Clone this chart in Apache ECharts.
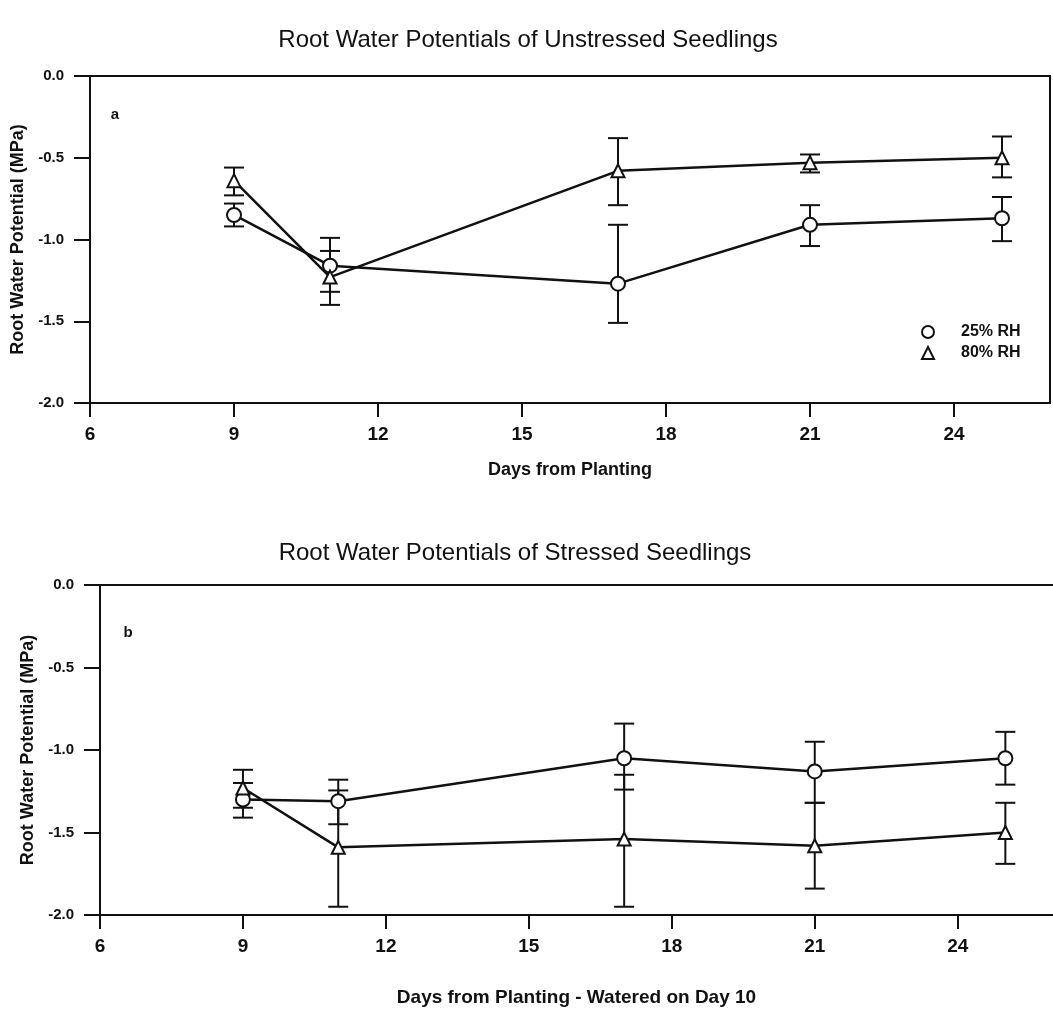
<!DOCTYPE html>
<html><head><meta charset="utf-8">
<script src="https://cdn.jsdelivr.net/npm/echarts@6/dist/echarts.min.js"></script>
<style>html,body{margin:0;padding:0;background:#fff}#c{width:1053px;height:1020px}</style>
</head><body><div id="c"></div>
<script>
// ---- data ----
const days = [9, 11, 17, 21, 25];
const seriesNames = ['25% RH', '80% RH'];
const titleA = 'Root Water Potentials of Unstressed Seedlings';
const titleB = 'Root Water Potentials of Stressed Seedlings';
const xNameA = 'Days from Planting';
const xNameB = 'Days from Planting - Watered on Day 10';
const yName = 'Root Water Potential (MPa)';
const xTickLabels = [6, 9, 12, 15, 18, 21, 24];
const yTickLabels = ['0.0', '-0.5', '-1.0', '-1.5', '-2.0'];

// panel a (unstressed)
const a25 = [-0.85, -1.16, -1.27, -0.91, -0.87];
const a25Hi = [-0.78, -0.99, -0.91, -0.79, -0.74];
const a25Lo = [-0.92, -1.32, -1.51, -1.04, -1.01];
const a80 = [-0.64, -1.23, -0.58, -0.53, -0.50];
const a80Hi = [-0.56, -1.07, -0.38, -0.48, -0.37];
const a80Lo = [-0.73, -1.40, -0.79, -0.59, -0.62];

// panel b (stressed)
const b25 = [-1.30, -1.31, -1.05, -1.13, -1.05];
const b25Hi = [-1.20, -1.18, -0.84, -0.95, -0.89];
const b25Lo = [-1.41, -1.45, -1.24, -1.32, -1.21];
const b80 = [-1.23, -1.59, -1.54, -1.58, -1.50];
const b80Hi = [-1.12, -1.245, -1.15, -1.32, -1.32];
const b80Lo = [-1.35, -1.95, -1.95, -1.84, -1.69];

// ---- chart ----
const FONT = 'Liberation Sans, Arial, sans-serif';
const INK = '#111';
const chart = echarts.init(document.getElementById('c'), null, {renderer: 'canvas'});

function xAxis(gi, name, gap, nameSize) {
  return {
    type: 'value', gridIndex: gi, min: 6, max: 26, interval: 3,
    name: name, nameLocation: 'middle', nameGap: gap,
    nameTextStyle: {fontFamily: FONT, fontSize: nameSize, fontWeight: 'bold', color: INK},
    axisLine: {onZero: false, lineStyle: {color: INK, width: 2}},
    axisTick: {inside: false, length: 14, customValues: xTickLabels, lineStyle: {color: INK, width: 2}},
    axisLabel: {margin: 22, fontFamily: FONT, fontSize: 19, fontWeight: 'bold', color: INK,
      customValues: xTickLabels,
      formatter: v => xTickLabels.indexOf(v) >= 0 ? String(v) : ''},
    splitLine: {show: false}
  };
}
function topLine(gi) {
  return {
    type: 'value', gridIndex: gi, min: 6, max: 26, position: 'top',
    axisLine: {onZero: false, lineStyle: {color: INK, width: 2}},
    axisTick: {show: false}, axisLabel: {show: false}, splitLine: {show: false}
  };
}
function yAxis(gi, gap) {
  return {
    type: 'value', gridIndex: gi, min: -2, max: 0, interval: 0.5,
    name: yName, nameLocation: 'middle', nameGap: gap, nameRotate: 90,
    nameTextStyle: {fontFamily: FONT, fontSize: 18, fontWeight: 'bold', color: INK},
    axisLine: {onZero: false, lineStyle: {color: INK, width: 2}},
    axisTick: {inside: false, length: 16, lineStyle: {color: INK, width: 2}},
    axisLabel: {margin: 26, fontFamily: FONT, fontSize: 15, fontWeight: 'bold', color: INK,
      formatter: v => yTickLabels[Math.round(-v / 0.5)] || ''},
    splitLine: {show: false}
  };
}
function lineSeries(name, vals, gi, sym, size) {
  return {
    type: 'line', name: name, xAxisIndex: gi, yAxisIndex: gi, z: 3,
    data: days.map((d, i) => [d, vals[i]]),
    symbol: sym, symbolSize: size, showSymbol: true,
    itemStyle: {color: '#fff', borderColor: INK, borderWidth: 2},
    lineStyle: {color: INK, width: 2.5},
    emphasis: {disabled: true}
  };
}
function errSeries(hi, lo, gi) {
  return {
    type: 'custom', xAxisIndex: gi, yAxisIndex: gi, z: 2, silent: true,
    data: days.map((d, i) => [d, hi[i], lo[i]]),
    encode: {x: 0, y: [1, 2]},
    renderItem(params, api) {
      const x = api.value(0);
      const a = api.coord([x, api.value(1)]);
      const b = api.coord([x, api.value(2)]);
      const w = 10;
      const st = {stroke: INK, lineWidth: 2};
      return {type: 'group', children: [
        {type: 'line', shape: {x1: a[0], y1: a[1], x2: b[0], y2: b[1]}, style: st},
        {type: 'line', shape: {x1: a[0] - w, y1: a[1], x2: a[0] + w, y2: a[1]}, style: st},
        {type: 'line', shape: {x1: b[0] - w, y1: b[1], x2: b[0] + w, y2: b[1]}, style: st}
      ]};
    }
  };
}

const option = {
  backgroundColor: '#fff',
  animation: false,
  grid: [
    {left: 90, top: 76, width: 960, height: 327, show: true, borderColor: INK, borderWidth: 2, backgroundColor: 'transparent'},
    {left: 100, top: 585, width: 960, height: 330, show: false}
  ],
  xAxis: [xAxis(0, xNameA, 58, 18), xAxis(1, xNameB, 73, 19), topLine(1)],
  yAxis: [yAxis(0, 58), yAxis(1, 60)],
  legend: {
    orient: 'vertical', left: 921, top: 322, itemGap: 1, padding: 0,
    itemWidth: 12, itemHeight: 12, selectedMode: false,
    textStyle: {fontFamily: FONT, fontSize: 16, fontWeight: 'bold', color: INK, lineHeight: 20, padding: [0, 0, 0, 22]},
    data: [
      {name: seriesNames[0], icon: 'circle', itemStyle: {color: '#fff', borderColor: INK, borderWidth: 2}},
      {name: seriesNames[1], icon: 'triangle', itemStyle: {color: '#fff', borderColor: INK, borderWidth: 2}}
    ]
  },
  graphic: [
    {type: 'text', x: 528, y: 40, style: {text: titleA, textAlign: 'center', textVerticalAlign: 'middle', font: '24px ' + FONT, fill: INK}},
    {type: 'text', x: 515, y: 553, style: {text: titleB, textAlign: 'center', textVerticalAlign: 'middle', font: '24px ' + FONT, fill: INK}},
    {type: 'text', x: 115, y: 115, style: {text: 'a', textAlign: 'center', textVerticalAlign: 'middle', font: 'bold 15px ' + FONT, fill: INK}},
    {type: 'text', x: 128, y: 633, style: {text: 'b', textAlign: 'center', textVerticalAlign: 'middle', font: 'bold 15px ' + FONT, fill: INK}}
  ],
  series: [
    errSeries(a25Hi, a25Lo, 0), errSeries(a80Hi, a80Lo, 0),
    lineSeries(seriesNames[0], a25, 0, 'circle', 14),
    lineSeries(seriesNames[1], a80, 0, 'triangle', 13),
    errSeries(b25Hi, b25Lo, 1), errSeries(b80Hi, b80Lo, 1),
    lineSeries(seriesNames[0], b25, 1, 'circle', 14),
    lineSeries(seriesNames[1], b80, 1, 'triangle', 13)
  ]
};
chart.setOption(option);
</script>
</body></html>
